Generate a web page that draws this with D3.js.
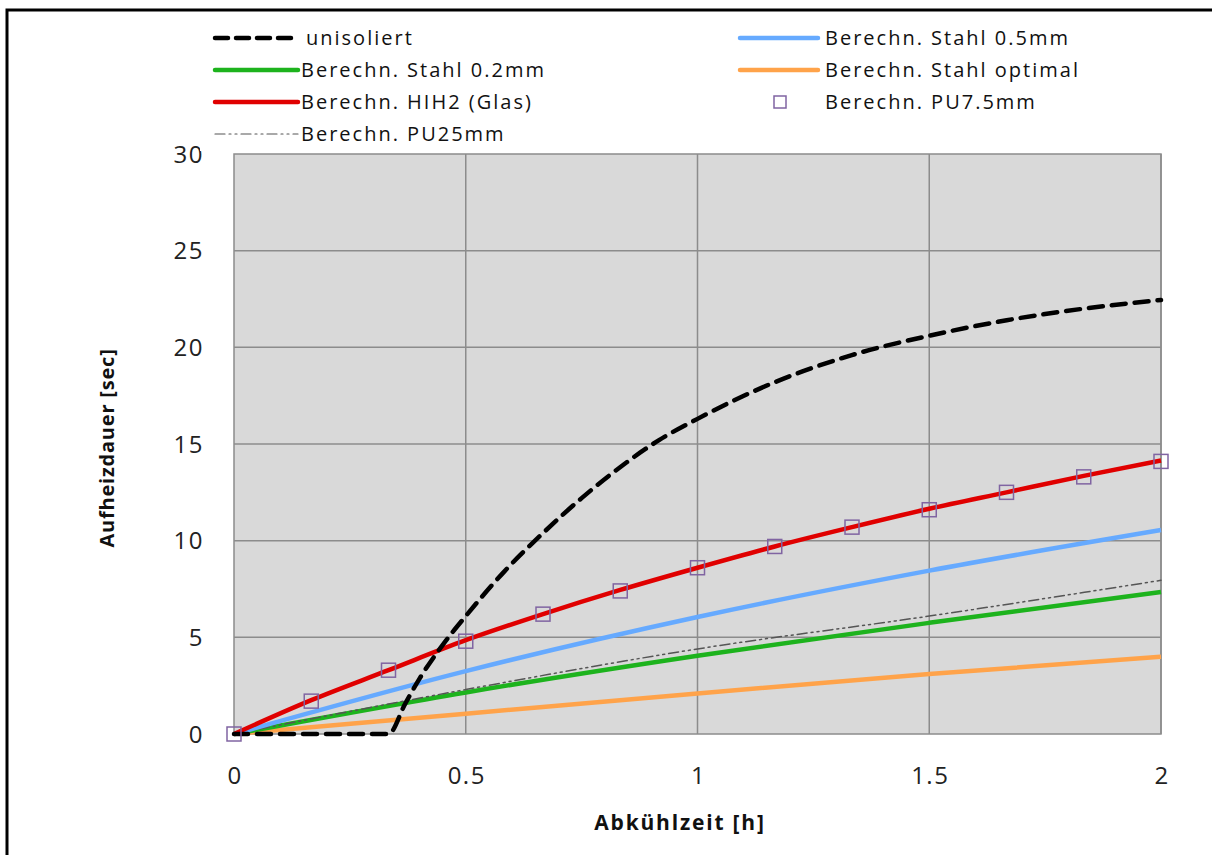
<!DOCTYPE html>
<html>
<head>
<meta charset="utf-8">
<script src="https://cdn.jsdelivr.net/npm/d3@7"></script>
<style>
  body { margin: 0; background: #fff; }
  svg { display: block; font-family: "Open Sans", "DejaVu Sans", sans-serif; }
</style>
</head>
<body>
<svg id="chart" width="1212" height="855"></svg>
<script>
// ---- data ----
const xTicks = [0, 0.5, 1, 1.5, 2];
const yTicks = [0, 5, 10, 15, 20, 25, 30];

const xUnisoliert = [0, 1/6, 1/3, 0.37, 0.4, 0.45, 0.5, 0.583, 0.667, 0.75, 0.833, 0.917, 1, 1.167, 1.333, 1.5, 1.667, 1.833, 2];
const yUnisoliert = [0, 0, 0, 1.6, 2.85, 4.6, 6.1, 8.4, 10.4, 12.2, 13.8, 15.2, 16.3, 18.2, 19.6, 20.6, 21.4, 22.0, 22.45];

const xCalc = [0, 0.5, 1, 1.5, 2];
const yStahl05 = [0, 3.25, 6.05, 8.45, 10.55];
const yStahl02 = [0, 2.15, 4.05, 5.75, 7.35];
const yStahlOpt = [0, 1.05, 2.1, 3.1, 4.0];
const yPU25 = [0, 2.3, 4.4, 6.1, 7.95];

const xHIH2 = [0, 1/6, 1/3, 0.5, 2/3, 5/6, 1, 7/6, 4/3, 1.5, 5/3, 11/6, 2];
const yHIH2 = [0, 1.75, 3.3, 4.85, 6.2, 7.45, 8.6, 9.7, 10.7, 11.65, 12.5, 13.35, 14.15];
const yPU75 = [0, 1.7, 3.3, 4.8, 6.2, 7.4, 8.6, 9.7, 10.7, 11.6, 12.5, 13.3, 14.1];

const svg = d3.select("#chart");

// outer frame (only left and top edges visible)
svg.append("path")
    .attr("d", "M7,855 V10 H1212")
    .attr("fill", "none")
    .attr("stroke", "#000")
    .attr("stroke-width", 3);

const plot = { left: 234, top: 154, right: 1161, bottom: 734 };

const x = d3.scaleLinear().domain([0, 2]).range([plot.left, plot.right]);
const y = d3.scaleLinear().domain([0, 30]).range([plot.bottom, plot.top]);

// plot background
svg.append("rect")
    .attr("x", plot.left).attr("y", plot.top)
    .attr("width", plot.right - plot.left)
    .attr("height", plot.bottom - plot.top)
    .attr("fill", "#d9d9d9")
    .attr("stroke", "#8c8c8c")
    .attr("stroke-width", 1.5);

// gridlines
svg.append("g").selectAll("line")
    .data(yTicks.slice(1, -1))
    .enter().append("line")
    .attr("x1", plot.left).attr("x2", plot.right)
    .attr("y1", d => y(d)).attr("y2", d => y(d))
    .attr("stroke", "#8c8c8c").attr("stroke-width", 1.5);

svg.append("g").selectAll("line")
    .data(xTicks.slice(1))
    .enter().append("line")
    .attr("x1", d => x(d)).attr("x2", d => x(d))
    .attr("y1", plot.top).attr("y2", plot.bottom)
    .attr("stroke", "#8c8c8c").attr("stroke-width", 1.5);

// tick labels
svg.append("g").selectAll("text")
    .data(yTicks)
    .enter().append("text")
    .attr("x", 204)
    .attr("y", d => y(d) + 8.5)
    .attr("text-anchor", "end")
    .attr("font-size", 24)
    .attr("letter-spacing", 1.5)
    .attr("fill", "#222")
    .text(d => d);

svg.append("g").selectAll("text")
    .data(xTicks)
    .enter().append("text")
    .attr("x", d => x(d) + 1)
    .attr("y", 784)
    .attr("text-anchor", "middle")
    .attr("font-size", 24)
    .attr("letter-spacing", 1.5)
    .attr("fill", "#222")
    .text(d => d);

// axis titles
svg.append("text")
    .attr("x", 680).attr("y", 830)
    .attr("text-anchor", "middle")
    .attr("font-size", 21).attr("font-weight", "bold")
    .attr("letter-spacing", 1.8)
    .attr("fill", "#111")
    .text("Abkühlzeit [h]");

svg.append("text")
    .attr("transform", "translate(114,448) rotate(-90)")
    .attr("text-anchor", "middle")
    .attr("font-size", 20).attr("font-weight", "bold")
    .attr("letter-spacing", 0.8)
    .attr("fill", "#111")
    .text("Aufheizdauer [sec]");

// series
const line = d3.line()
    .x(d => x(d[0]))
    .y(d => y(d[1]))
    .curve(d3.curveMonotoneX);

function zip(xs, ys) { return xs.map((v, i) => [v, ys[i]]); }

const series = [
    { xs: xCalc, ys: yStahlOpt, color: "#ffa34a", width: 4.5, dash: null },
    { xs: xCalc, ys: yStahl02, color: "#1db31d", width: 4.5, dash: null },
    { xs: xCalc, ys: yPU25, color: "#555", width: 1.5, dash: "10,4,2,4,2,4" },
    { xs: xCalc, ys: yStahl05, color: "#66aaff", width: 4.5, dash: null },
    { xs: xHIH2, ys: yHIH2, color: "#e00000", width: 4.5, dash: null },
    { xs: xUnisoliert, ys: yUnisoliert, color: "#000", width: 4.5, dash: "14,9" }
];

series.forEach(s => {
    svg.append("path")
        .datum(zip(s.xs, s.ys))
        .attr("d", line)
        .attr("fill", "none")
        .attr("stroke", s.color)
        .attr("stroke-width", s.width)
        .attr("stroke-dasharray", s.dash)
        .attr("stroke-linecap", s.dash ? "round" : "butt");
});

// PU7.5mm markers
svg.append("g").selectAll("rect")
    .data(zip(xHIH2, yPU75))
    .enter().append("rect")
    .attr("x", d => x(d[0]) - 7)
    .attr("y", d => y(d[1]) - 7)
    .attr("width", 14).attr("height", 14)
    .attr("fill", "none")
    .attr("stroke", "#8064a2")
    .attr("stroke-width", 1.5);

// legend (white box covers the top of the "30" label like in the original)
svg.append("rect")
    .attr("x", 200).attr("y", 16)
    .attr("width", 900).attr("height", 135)
    .attr("fill", "#fff");

const legendItems = [
    { name: "unisoliert", color: "#000", width: 4.5, dash: "13,8", col: 0, row: 0 },
    { name: "Berechn. Stahl 0.5mm", color: "#66aaff", width: 4.5, dash: null, col: 1, row: 0 },
    { name: "Berechn. Stahl 0.2mm", color: "#1db31d", width: 4.5, dash: null, col: 0, row: 1 },
    { name: "Berechn. Stahl optimal", color: "#ffa34a", width: 4.5, dash: null, col: 1, row: 1 },
    { name: "Berechn. HIH2 (Glas)", color: "#e00000", width: 4.5, dash: null, col: 0, row: 2 },
    { name: "Berechn. PU7.5mm", marker: true, col: 1, row: 2 },
    { name: "Berechn. PU25mm", color: "#555", width: 1.2, dash: "10,4,2,4,2,4", col: 0, row: 3 }
];

const legend = svg.append("g").attr("class", "legend");

legendItems.forEach(item => {
    const lx = item.col === 0 ? 213 : 738;
    const ly = 38 + item.row * 32;
    const row = legend.append("g").attr("transform", `translate(${lx},${ly})`);

    if (item.marker) {
        row.append("rect")
            .attr("x", 42 - 6).attr("y", -6)
            .attr("width", 12).attr("height", 12)
            .attr("fill", "none")
            .attr("stroke", "#8064a2")
            .attr("stroke-width", 1.5);
    } else {
        row.append("line")
            .attr("x1", 2).attr("x2", item.col === 0 ? 85 : 80)
            .attr("y1", 0).attr("y2", 0)
            .attr("stroke", item.color)
            .attr("stroke-width", item.width)
            .attr("stroke-dasharray", item.dash)
            .attr("stroke-linecap", "round");
    }

    row.append("text")
        .attr("x", item.col === 0 ? (item.row === 0 ? 93 : 88) : 87)
        .attr("y", 7)
        .attr("font-size", 20)
        .attr("letter-spacing", 2)
        .attr("fill", "#111")
        .text(item.name);
});
</script>
</body>
</html>
